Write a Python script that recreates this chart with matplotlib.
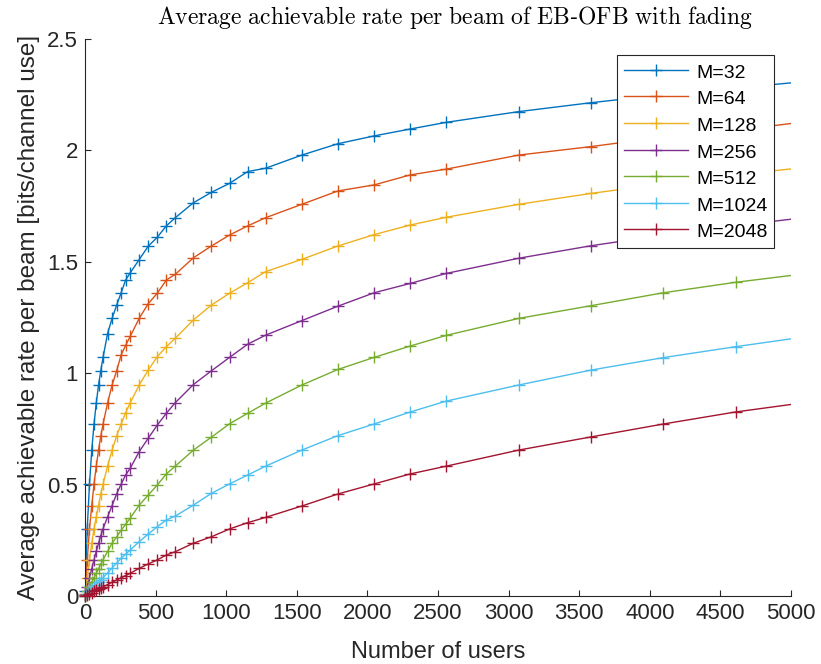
import numpy as np
import matplotlib
matplotlib.use("Agg")
import matplotlib.pyplot as plt
from matplotlib.lines import Line2D

# number of users K
users = [1, 16, 32, 48, 64, 80, 96, 112, 128, 160, 192, 224, 256, 288, 320,
         384, 448, 512, 576, 640, 768, 896, 1024, 1152, 1280, 1536, 1792,
         2048, 2304, 2560, 3072, 3584, 4096, 4608, 5120]

# average achievable rate per beam for each number of beams M
rate_m32 = [0.021, 0.302, 0.502, 0.655, 0.772, 0.866, 0.947, 1.012, 1.071,
            1.178, 1.246, 1.305, 1.361, 1.418, 1.450, 1.510, 1.570, 1.610,
            1.661, 1.698, 1.765, 1.812, 1.852, 1.905, 1.920, 1.979, 2.030,
            2.065, 2.096, 2.126, 2.174, 2.214, 2.250, 2.280, 2.310]
rate_m64 = [0.010, 0.162, 0.302, 0.406, 0.502, 0.583, 0.655, 0.718, 0.772,
            0.866, 0.947, 1.010, 1.082, 1.125, 1.165, 1.246, 1.312, 1.359,
            1.418, 1.444, 1.518, 1.571, 1.620, 1.661, 1.698, 1.758, 1.818,
            1.845, 1.890, 1.916, 1.979, 2.017, 2.060, 2.090, 2.130]
rate_m128 = [0.005, 0.082, 0.162, 0.237, 0.302, 0.355, 0.406, 0.458, 0.502,
             0.583, 0.655, 0.718, 0.772, 0.823, 0.866, 0.947, 1.014, 1.074,
             1.119, 1.157, 1.239, 1.306, 1.359, 1.406, 1.456, 1.511, 1.571,
             1.622, 1.665, 1.700, 1.758, 1.807, 1.850, 1.890, 1.925]
rate_m256 = [0.003, 0.041, 0.082, 0.123, 0.162, 0.200, 0.237, 0.271, 0.302,
             0.355, 0.406, 0.458, 0.502, 0.543, 0.573, 0.648, 0.708, 0.767,
             0.820, 0.868, 0.949, 1.011, 1.071, 1.130, 1.171, 1.236, 1.301,
             1.361, 1.403, 1.448, 1.516, 1.572, 1.620, 1.662, 1.700]
rate_m512 = [0.001, 0.021, 0.041, 0.062, 0.082, 0.102, 0.123, 0.143, 0.162,
             0.200, 0.237, 0.265, 0.295, 0.322, 0.349, 0.408, 0.453, 0.498,
             0.548, 0.583, 0.655, 0.713, 0.773, 0.820, 0.866, 0.947, 1.017,
             1.071, 1.122, 1.170, 1.246, 1.303, 1.361, 1.408, 1.448]
rate_m1024 = [0.001, 0.010, 0.021, 0.031, 0.041, 0.051, 0.062, 0.072, 0.082,
              0.104, 0.126, 0.148, 0.169, 0.188, 0.206, 0.244, 0.278, 0.311,
              0.341, 0.359, 0.408, 0.461, 0.503, 0.543, 0.583, 0.655, 0.720,
              0.772, 0.826, 0.875, 0.947, 1.014, 1.070, 1.119, 1.165]
rate_m2048 = [0.0003, 0.005, 0.010, 0.015, 0.021, 0.026, 0.031, 0.036, 0.041,
              0.051, 0.062, 0.072, 0.082, 0.092, 0.102, 0.124, 0.144, 0.162,
              0.184, 0.199, 0.237, 0.266, 0.301, 0.329, 0.353, 0.404, 0.458,
              0.503, 0.548, 0.583, 0.655, 0.714, 0.772, 0.826, 0.870]

labels = ["M=32", "M=64", "M=128", "M=256", "M=512", "M=1024", "M=2048"]
series = [rate_m32, rate_m64, rate_m128, rate_m256, rate_m512, rate_m1024, rate_m2048]
colors = ["#0072BD", "#D95319", "#EDB120", "#7E2F8E", "#77AC30", "#4DBEEE", "#A2142F"]

x_max = 5000
axis_gray = "#262626"

plt.rcParams["font.family"] = ["Liberation Sans", "DejaVu Sans"]
plt.rcParams["mathtext.fontset"] = "cm"

fig = plt.figure(figsize=(8.21, 6.64), dpi=100)
ax = fig.add_axes([0.1035, 0.1024, 0.86, 0.8389])

k = np.array(users)
handles = []
for vals, lab, col in zip(series, labels, colors):
    r = np.array(vals)
    # the line is clipped at the axis limit, the markers are not
    ax.plot(k, r, color=col, lw=1.0, zorder=2)
    keep = k <= x_max
    ax.plot(k[keep], r[keep], ls="none", marker="+", ms=8.5, mew=1.0,
            color=col, clip_on=False, zorder=3)
    handles.append(Line2D([], [], color=col, lw=1.0, marker="+", ms=8.5,
                          mew=1.0, label=lab))

ax.set_xlim(0, x_max)
ax.set_ylim(0, 2.5)
ax.set_xticks(np.arange(0, 5001, 500))
ax.set_xticklabels([str(v) for v in range(0, 5001, 500)])
ax.set_yticks([0, 0.5, 1, 1.5, 2, 2.5])
ax.set_yticklabels(["0", "0.5", "1", "1.5", "2", "2.5"])

for side in ["top", "right"]:
    ax.spines[side].set_visible(False)
for side in ["left", "bottom"]:
    ax.spines[side].set_color(axis_gray)
    ax.spines[side].set_linewidth(0.8)

ax.tick_params(direction="in", length=4, width=0.8, colors=axis_gray,
               labelsize=16, pad=5)

ax.set_xlabel("Number of users", fontsize=17, color=axis_gray, labelpad=12)
ax.set_ylabel("Average achievable rate per beam [bits/channel use]",
              fontsize=17.5, color=axis_gray, labelpad=5)
ax.set_title(r"$\mathrm{Average\ achievable\ rate\ per\ beam\ of\ EB}$-$\mathrm{OFB\ with\ fading}$",
             fontsize=17, color="black", pad=11, x=0.524)

leg = ax.legend(handles=handles, loc="upper right",
                bbox_to_anchor=(0.976, 0.971), borderaxespad=0,
                fontsize=14, handlelength=3.3, handleheight=1.1,
                handletextpad=0.4, labelspacing=0.34, borderpad=0.35,
                fancybox=False, framealpha=1, edgecolor=axis_gray)
leg.get_frame().set_linewidth(0.8)

fig.savefig("out.png", dpi=100)
